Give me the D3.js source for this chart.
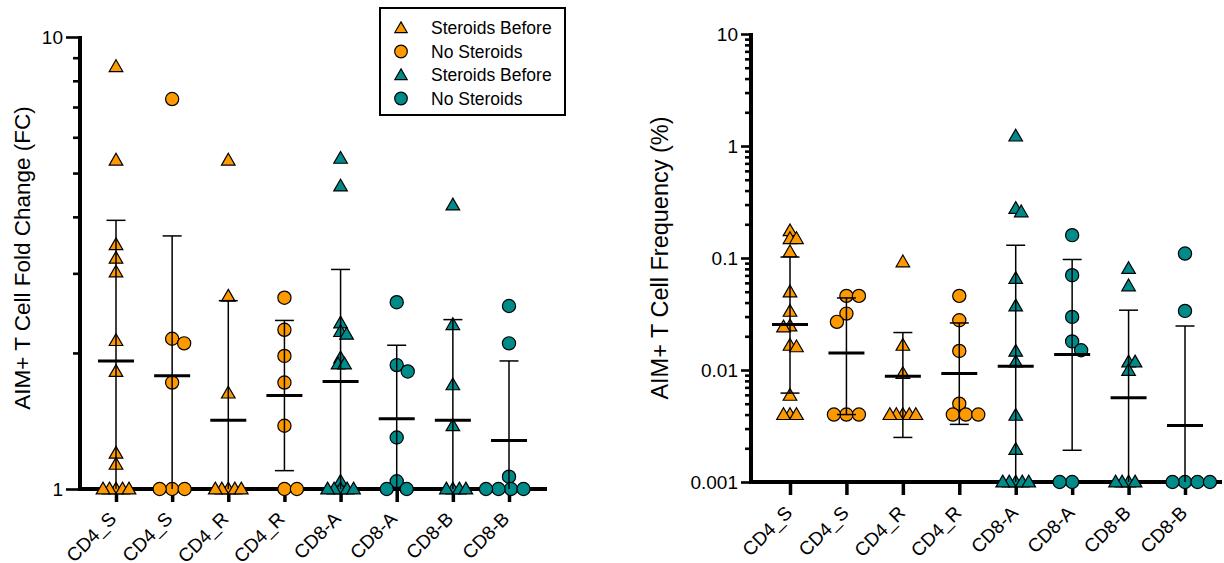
<!DOCTYPE html>
<html>
<head>
<meta charset="utf-8">
<script src="https://cdn.jsdelivr.net/npm/d3@7"></script>
<style>
  body { margin: 0; background: #fff; }
  svg text { font-family: "Liberation Sans", Arial, sans-serif; fill: #000; }
</style>
</head>
<body>
<div id="chart"></div>
<script>
// Categories (x-axis)
var categories = ["CD4_S", "CD4_S", "CD4_R", "CD4_R", "CD8-A", "CD8-A", "CD8-B", "CD8-B"];
// which series each column belongs to
var seriesOf = [0, 1, 0, 1, 2, 3, 2, 3];
var legendLabels = ["Steroids Before", "No Steroids", "Steroids Before", "No Steroids"];

// Left panel: fold change
var fcValues = [
  [8.6, 5.34, 3.47, 3.24, 3.02, 2.13, 1.82, 1.2, 1.134, 1, 1, 1, 1, 1],
  [7.29, 2.15, 2.10, 1.72, 1, 1, 1],
  [5.34, 2.67, 1.63, 1, 1, 1, 1, 1],
  [2.65, 2.25, 1.97, 1.72, 1.38, 1, 1],
  [5.39, 4.68, 2.33, 2.23, 2.2, 1.95, 1.89, 1.89, 1.04, 1, 1, 1, 1, 1],
  [2.59, 1.88, 1.82, 1.30, 1.04, 1, 1],
  [4.25, 2.31, 1.70, 1.38, 1, 1, 1, 1],
  [2.54, 2.10, 1.065, 1, 1, 1, 1]
];
var fcMean  = [1.92, 1.78, 1.42, 1.61, 1.73, 1.43, 1.42, 1.28];
var fcUpper = [3.93, 3.63, 2.61, 2.36, 3.06, 2.08, 2.37, 1.92];
var fcLower = [null, null, null, 1.098, null, null, null, null];

// Right panel: frequency (%)
var freqValues = [
  [0.175, 0.149, 0.149, 0.1135, 0.0498, 0.0334, 0.0247, 0.0242, 0.0166, 0.0161, 0.00594, 0.004, 0.004, 0.004],
  [0.0459, 0.0459, 0.0319, 0.0269, 0.004, 0.004, 0.004],
  [0.0923, 0.0166, 0.0093, 0.004, 0.004, 0.004, 0.004, 0.004],
  [0.0459, 0.0278, 0.0148, 0.0050, 0.004, 0.004, 0.004],
  [1.226, 0.277, 0.258, 0.0656, 0.0373, 0.0147, 0.0118, 0.00394, 0.00195, 0.001, 0.001, 0.001, 0.001, 0.001],
  [0.16, 0.0702, 0.0298, 0.018, 0.015, 0.001, 0.001],
  [0.0805, 0.0564, 0.0118, 0.0118, 0.0099, 0.001, 0.001, 0.001, 0.001],
  [0.1096, 0.0337, 0.001, 0.001, 0.001, 0.001]
];
var freqMean  = [0.0255, 0.0142, 0.0088, 0.0093, 0.0108, 0.01374, 0.00566, 0.0032];
var freqUpper = [0.102, 0.044, 0.0216, 0.0263, 0.130, 0.097, 0.0342, 0.0247];
var freqLower = [0.00622, 0.004, 0.0025, 0.00327, null, 0.00192, null, null];

var fcTicks = [1, 10];
var freqTicks = [0.001, 0.01, 0.1, 1, 10];
var freqTickLabels = ["0.001", "0.01", "0.1", "1", "10"];

var colors = ["#ff9900", "#ff9900", "#008b8b", "#008b8b"];
var isTriangle = [true, false, true, false];

var svgWidth = 1224;
var svgHeight = 563;

var svg = d3.select("#chart")
  .append("svg")
  .attr("width", svgWidth)
  .attr("height", svgHeight);

var triSym = d3.symbol().type(d3.symbolTriangle).size(80);

// simple beeswarm so tied points spread sideways
function swarm(vals, y, tri) {
  var D = tri ? 6.5 : 12.5;
  var placed = [];
  var bal = 0;
  return vals.map(function(v) {
    var py = y(v);
    var off = 0;
    for (var k = 0; k <= 80; k++) {
      var d = k * 0.5;
      var cands = k === 0 ? [0] : (bal > 0 ? [-d, d] : [d, -d]);
      var ok = cands.find(function(c) {
        return placed.every(function(p) {
          return Math.hypot(p.x - c, p.y - py) >= D - 0.01;
        });
      });
      if (ok !== undefined) { off = ok; break; }
    }
    bal += Math.sign(off);
    placed.push({x: off, y: py});
    return {v: v, dx: off};
  });
}

function drawPanel(cfg) {
  var g = svg.append("g");

  var y = d3.scaleLog().domain(cfg.domain).range([cfg.yBot, cfg.yTop]).clamp(true);
  var x = d3.scalePoint().domain(d3.range(categories.length)).range([cfg.xFirst, cfg.xLast]);

  // y axis: minor ticks
  var minor = [];
  for (var e = Math.log10(cfg.domain[0]); e < Math.log10(cfg.domain[1]); e++) {
    for (var m = 2; m <= 9; m++) minor.push(m * Math.pow(10, e));
  }
  g.append("g")
    .attr("transform", `translate(${cfg.x0}, 0)`)
    .call(d3.axisLeft(y).tickValues(minor).tickSize(cfg.minorTick).tickFormat(""))
    .call(a => a.select(".domain").remove())
    .call(a => a.selectAll("line").attr("stroke", "#000").attr("stroke-width", 2.6));

  g.append("g")
    .attr("transform", `translate(${cfg.x0}, 0)`)
    .call(d3.axisLeft(y).tickValues(cfg.ticks).tickSize(cfg.majorTick).tickPadding(3)
      .tickFormat((d, i) => cfg.tickLabels[i]))
    .call(a => a.select(".domain").remove())
    .call(a => a.selectAll("line").attr("stroke", "#000").attr("stroke-width", 2.6))
    .call(a => a.selectAll("text").attr("font-size", 19).attr("fill", "#000"));

  // x axis
  g.append("g")
    .attr("transform", `translate(0, ${cfg.yBot})`)
    .call(d3.axisBottom(x).tickSize(13).tickFormat(i => categories[i]))
    .call(a => a.select(".domain").remove())
    .call(a => a.selectAll("line").attr("stroke", "#000").attr("stroke-width", 3.5))
    .call(a => a.selectAll("text")
      .attr("font-size", 19)
      .attr("fill", "#000")
      .attr("text-anchor", "end")
      .attr("x", 0).attr("y", 0).attr("dy", 0)
      .attr("transform", `translate(${cfg.labDx}, ${cfg.labDy}) rotate(-45)`));

  // axis lines
  g.append("line")
    .attr("x1", cfg.x0).attr("x2", cfg.x0)
    .attr("y1", cfg.yTop - 1).attr("y2", cfg.yBot + 2)
    .attr("stroke", "#000").attr("stroke-width", 4);
  g.append("line")
    .attr("x1", cfg.x0 - 2).attr("x2", cfg.xEnd)
    .attr("y1", cfg.yBot).attr("y2", cfg.yBot)
    .attr("stroke", "#000").attr("stroke-width", 4);

  // axis title
  g.append("text")
    .attr("transform", `translate(${cfg.titleX}, ${cfg.titleY}) rotate(-90)`)
    .attr("text-anchor", "middle")
    .attr("font-size", cfg.titleSize)
    .text(cfg.title);

  // points
  cfg.values.forEach(function(vals, i) {
    var s = seriesOf[i];
    var pts = swarm(vals, y, isTriangle[s]);
    var pg = g.append("g");
    pts.forEach(function(p) {
      var cx = x(i) + p.dx, cy = y(p.v);
      if (isTriangle[s]) {
        pg.append("path")
          .attr("d", triSym())
          .attr("transform", `translate(${cx}, ${cy + 1})`)
          .attr("fill", colors[s]).attr("stroke", "#000").attr("stroke-width", 1.2);
      } else {
        pg.append("circle")
          .attr("cx", cx).attr("cy", cy).attr("r", 6.6)
          .attr("fill", colors[s]).attr("stroke", "#000").attr("stroke-width", 1.2);
      }
    });
  });

  // error bars and means
  cfg.values.forEach(function(vals, i) {
    var cx = x(i);
    var lo = cfg.lower[i] == null ? cfg.domain[0] : cfg.lower[i];
    g.append("line")
      .attr("x1", cx).attr("x2", cx)
      .attr("y1", y(cfg.upper[i])).attr("y2", y(lo))
      .attr("stroke", "#000").attr("stroke-width", 1.5);
    g.append("line")
      .attr("x1", cx - 9.5).attr("x2", cx + 9.5)
      .attr("y1", y(cfg.upper[i])).attr("y2", y(cfg.upper[i]))
      .attr("stroke", "#000").attr("stroke-width", 1.5);
    if (cfg.lower[i] != null) {
      g.append("line")
        .attr("x1", cx - 9.5).attr("x2", cx + 9.5)
        .attr("y1", y(lo)).attr("y2", y(lo))
        .attr("stroke", "#000").attr("stroke-width", 1.5);
    }
    g.append("line")
      .attr("x1", cx - 18).attr("x2", cx + 18)
      .attr("y1", y(cfg.mean[i])).attr("y2", y(cfg.mean[i]))
      .attr("stroke", "#000").attr("stroke-width", 3);
  });
}

drawPanel({
  domain: [1, 10], ticks: fcTicks, tickLabels: ["1", "10"],
  x0: 80, xEnd: 547, yTop: 37, yBot: 489, xFirst: 116, xLast: 509,
  majorTick: 14, minorTick: 7, labDx: 1, labDy: 31,
  title: "AIM+ T Cell Fold Change (FC)", titleX: 30, titleY: 258, titleSize: 22.5,
  values: fcValues, mean: fcMean, upper: fcUpper, lower: fcLower
});

drawPanel({
  domain: [0.001, 10], ticks: freqTicks, tickLabels: freqTickLabels,
  x0: 751, xEnd: 1222, yTop: 34, yBot: 482, xFirst: 790, xLast: 1185,
  majorTick: 10, minorTick: 6, labDx: 3, labDy: 32,
  title: "AIM+ T Cell Frequency (%)", titleX: 668, titleY: 258, titleSize: 23.5,
  values: freqValues, mean: freqMean, upper: freqUpper, lower: freqLower
});

// Legend
var legend = svg.append("g");
legend.append("rect")
  .attr("x", 380).attr("y", 8).attr("width", 185).attr("height", 107)
  .attr("fill", "#fff").attr("stroke", "#000").attr("stroke-width", 2);

legendLabels.forEach(function(label, i) {
  var ly = 28 + i * 23.5;
  if (isTriangle[i]) {
    legend.append("path")
      .attr("d", d3.symbol().type(d3.symbolTriangle).size(66)())
      .attr("transform", `translate(401, ${ly + 1})`)
      .attr("fill", colors[i]).attr("stroke", "#000").attr("stroke-width", 1.2);
  } else {
    legend.append("circle")
      .attr("cx", 401).attr("cy", ly).attr("r", 6.3)
      .attr("fill", colors[i]).attr("stroke", "#000").attr("stroke-width", 1.2);
  }
  legend.append("text")
    .attr("x", 431).attr("y", ly).attr("dy", "0.35em")
    .attr("font-size", 17.5)
    .text(label);
});
</script>
</body>
</html>
